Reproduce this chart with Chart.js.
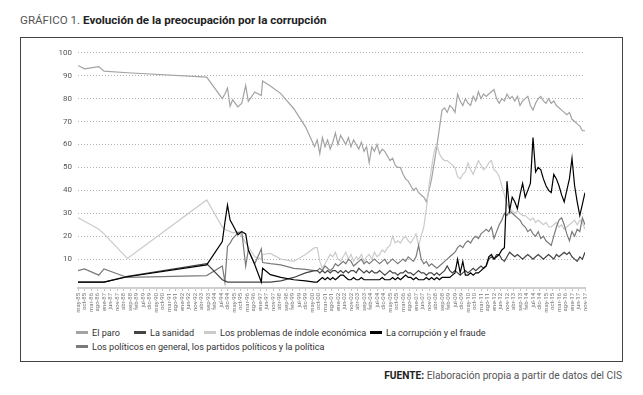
<!DOCTYPE html>
<html lang="es">
<head>
<meta charset="utf-8">
<script src="https://cdn.jsdelivr.net/npm/chart.js@4"></script>
<style>
  body { margin: 0; width: 643px; height: 395px; background: #fff; font-family: Roboto, "Liberation Sans", sans-serif; position: relative; overflow: hidden; }
  #titulo { position: absolute; left: 20px; top: 13px; font-size: 11.6px; line-height: 14px; color: #555; }
  #titulo b { color: #222; }
  #marco { position: absolute; left: 20px; top: 37px; width: 601px; height: 323px; border: 1.5px solid #444; }
  #contenedor { position: absolute; left: 22px; top: 42px; width: 600px; height: 280px; }
  #leyenda { position: absolute; left: 76px; top: 326px; width: 540px; height: 30px; font-size: 9.1px; line-height: 14px; color: #333; }
  #leyenda .item { position: absolute; white-space: nowrap; }
  #leyenda .marca { display: inline-block; width: 12px; height: 3px; vertical-align: middle; margin-right: 4px; position: relative; top: -1px; }
  #fuente { position: absolute; right: 21px; top: 369px; font-size: 10.2px; line-height: 13px; color: #555; }
  #fuente b { color: #222; }
</style>
</head>
<body>
<div id="titulo">GRÁFICO 1. <b>Evolución de la preocupación por la corrupción</b></div>
<div id="marco"></div>
<div id="contenedor"><canvas id="grafico"></canvas></div>
<div id="leyenda"></div>
<div id="fuente"><b>FUENTE:</b> Elaboración propia a partir de datos del CIS</div>
<script>
// meses contados desde may-85 (0 = may-85, 390 = nov-17)
const mesesIniciales = [0, 5, 16, 20, 38, 99, 111, 113, 115, 117, 119, 123, 126, 129, 131, 136, 141, 142, 148, 156, 166, 175, 182];
const mesesBarometro = [];
for (let m = 184; m <= 390; m += 2) mesesBarometro.push(m);
const meses = mesesIniciales.concat(mesesBarometro);

const nombresMes = ['ene', 'feb', 'mar', 'abr', 'may', 'jun', 'jul', 'ago', 'sep', 'oct', 'nov', 'dic'];
const pasoEtiquetas = 5;

const series = ['El paro', 'La sanidad', 'Los problemas de índole económica', 'La corrupción y el fraude',
  'Los políticos en general, los partidos políticos y la política'];
const colores = ['#a3a3a3', '#444444', '#cbcbcb', '#000000', '#7a7a7a'];

const paro = [
  94.5, 93, 94, 92, 91.3, 89.4, 80, 82, 84.6, 76.7, 79.5, 76.4, 78, 85.8, 78.8, 82.9, 81.4, 87.7, 85.5, 82.2, 75.6, 67.7, 59,
  62, 56, 63, 59, 62, 58, 61, 65, 60, 64,
  62, 60, 63, 59, 62, 60, 58, 61, 57, 59,
  52, 59, 57, 60, 56, 58, 57, 55, 53, 54,
  51, 50, 50, 47, 45, 44, 42, 40, 41, 39,
  38, 37, 35, 40, 45, 52, 59, 67, 75, 76,
  74, 77, 76, 74, 82, 79, 77, 80, 78, 77,
  81, 79, 83, 80, 82, 81, 82, 83, 84, 80,
  78, 80, 79, 82, 80, 81, 79, 81, 77, 79,
  80, 81, 77, 75, 78, 80, 81, 79, 78, 80,
  78, 79, 77, 76, 75, 74, 73, 74, 71, 70,
  69, 68, 66, 66
];
const sanidad = [
  0, 0, 0, 0, 2.5, 8, 1, 0.5, 0, 0, 0, 0, 0, 0, 0, 0, 0, 0, 0, 0.5, 2, 4, 5,
  5, 4, 5, 4, 5, 4, 5, 5, 4, 5,
  4, 5, 4, 5, 5, 4, 6, 5, 4, 5,
  4, 5, 4, 4, 5, 4, 3, 4, 5, 4,
  4, 3, 4, 4, 5, 4, 4, 3, 4, 5,
  4, 4, 3, 4, 4, 3, 4, 3, 4, 5,
  7, 5, 4, 5, 4, 3, 4, 5, 4, 5,
  6, 5, 6, 7, 6, 7, 10, 11, 10, 12,
  12, 10, 9, 11, 13, 12, 11, 12, 11, 10,
  11, 12, 11, 10, 11, 12, 11, 10, 11, 12,
  11, 10, 12, 11, 12, 13, 12, 13, 11, 10,
  9, 11, 10, 13
];
const economia = [
  28, 26.5, 23, 21, 10.3, 35.8, 24, 23, 22.5, 22, 21.5, 22, 20, 17, 15.5, 11, 10, 12, 12.5, 10, 9, 12, 15,
  15, 9, 6, 8, 10, 12, 11, 13, 10, 9,
  11, 13, 10, 12, 9, 11, 10, 12, 9, 11,
  12, 10, 13, 11, 12, 14, 13, 15, 16, 20,
  17, 18, 17, 19, 20, 18, 17, 19, 21, 16,
  20, 24, 32, 42, 50, 57, 60, 56, 54, 53,
  53, 52, 51, 50, 46, 45, 47, 48, 52, 49,
  47, 50, 53, 51, 49, 50, 52, 53, 49, 48,
  46, 42, 38, 34, 32, 31, 30, 31, 30, 29,
  29, 28, 27, 28, 26, 27, 26, 25, 26, 24,
  24, 25, 26, 24, 25, 23, 24, 25, 26, 27,
  25, 27, 26, 23
];
const corrupcion = [
  0, 0, 0, 0, 2.3, 7.5, 17.7, 26, 33.6, 27, 25, 20.6, 22, 21, 14, 7.5, 0, 6, 3.2, 2, 1, 0.5, 0,
  0, 1, 2, 1, 2, 1, 2, 1, 2, 3,
  3, 2, 1, 1, 2, 1, 1, 2, 1, 1,
  1, 1, 1, 1, 1, 2, 1, 1, 1, 2,
  1, 2, 1, 2, 3, 2, 2, 1, 2, 1,
  1, 1, 2, 1, 2, 1, 2, 1, 2, 2,
  2, 2, 3, 4, 10, 4, 9, 3, 3, 4,
  3, 4, 4, 5, 6, 7, 11, 12, 10, 11,
  12, 14, 15, 44, 31, 37, 35, 32, 38, 43,
  37, 40, 43, 63, 48, 50, 49, 45, 42, 40,
  39, 47, 45, 42, 38, 35, 40, 45, 54, 42,
  35, 29, 34, 39
];
const politicos = [
  5, 5.7, 3, 5.7, 2, 2.8, 7, 0, 15.5, 17, 19, 21.5, 22, 7, 14, 8, 14.5, 8.5, 8, 7.5, 6, 5.5, 5,
  5, 6, 5, 7, 6, 5, 6, 8, 7, 8,
  9, 8, 10, 9, 7, 8, 9, 10, 8, 9,
  8, 9, 10, 9, 8, 9, 10, 8, 9, 10,
  9, 8, 9, 10, 9, 11, 10, 9, 11, 16,
  10, 8, 9, 7, 8, 7, 6, 7, 8, 9,
  10, 11, 12, 13, 15, 16, 15, 17, 18, 17,
  19, 20, 19, 21, 22, 23, 22, 24, 19, 22,
  25, 27, 30, 29, 31, 30, 29, 28, 27, 25,
  24, 22, 23, 21, 20, 22, 19, 20, 18, 17,
  16, 20, 24, 27, 28, 25, 21, 18, 22, 20,
  23, 22, 28, 25
];

const valores = [paro, sanidad, economia, corrupcion, politicos];

function etiquetaMes(v) {
  const t = v + 4;
  const anio = (85 + Math.floor(t / 12)) % 100;
  return nombresMes[t % 12] + '-' + String(anio).padStart(2, '0');
}

const datasets = series.map((nombre, i) => ({
  label: nombre,
  data: meses.map((m, j) => ({ x: m, y: valores[i][j] })),
  borderColor: colores[i],
  backgroundColor: colores[i],
  borderWidth: 1.2,
  pointRadius: 0,
  tension: 0,
  order: i === 3 ? 0 : (i === 1 ? 1 : 5 - i)
}));

new Chart(document.getElementById('grafico'), {
  type: 'line',
  data: { datasets },
  options: {
    responsive: true,
    maintainAspectRatio: false,
    animation: false,
    layout: { padding: { top: 10, right: 37, left: 0, bottom: 0 } },
    plugins: { legend: { display: false }, tooltip: { enabled: false } },
    scales: {
      x: {
        type: 'linear',
        min: 0,
        max: 390,
        afterFit: s => { s.height = 34; },
        ticks: {
          stepSize: pasoEtiquetas,
          autoSkip: false,
          maxRotation: 90,
          minRotation: 90,
          padding: 2,
          color: '#777',
          font: { family: 'Roboto', size: 6 },
          callback: etiquetaMes
        },
        grid: { drawOnChartArea: false, color: '#c4c4c4', tickLength: 3 },
        border: { color: '#cfcfcf', width: 2 }
      },
      y: {
        min: -2.6,
        max: 100,
        afterFit: s => { s.width = 56; },
        afterBuildTicks: s => { s.ticks = s.ticks.filter(t => t.value >= 0); },
        ticks: { stepSize: 10, padding: 6, color: '#555', font: { family: 'Roboto', size: 8 } },
        grid: { color: '#b5b5b5', drawTicks: false },
        border: { display: false, dash: [1, 2] }
      }
    }
  }
});

// leyenda en html, columnas como en el original
const leyenda = document.getElementById('leyenda');
const posLeyenda = [[0, 0], [58, 0], [128, 0], [294, 0], [0, 14]];
series.forEach((nombre, i) => {
  const item = document.createElement('span');
  item.className = 'item';
  item.style.left = posLeyenda[i][0] + 'px';
  item.style.top = posLeyenda[i][1] + 'px';
  item.innerHTML = `<span class="marca" style="background:${colores[i]}"></span>${nombre}`;
  leyenda.appendChild(item);
});
</script>
</body>
</html>
